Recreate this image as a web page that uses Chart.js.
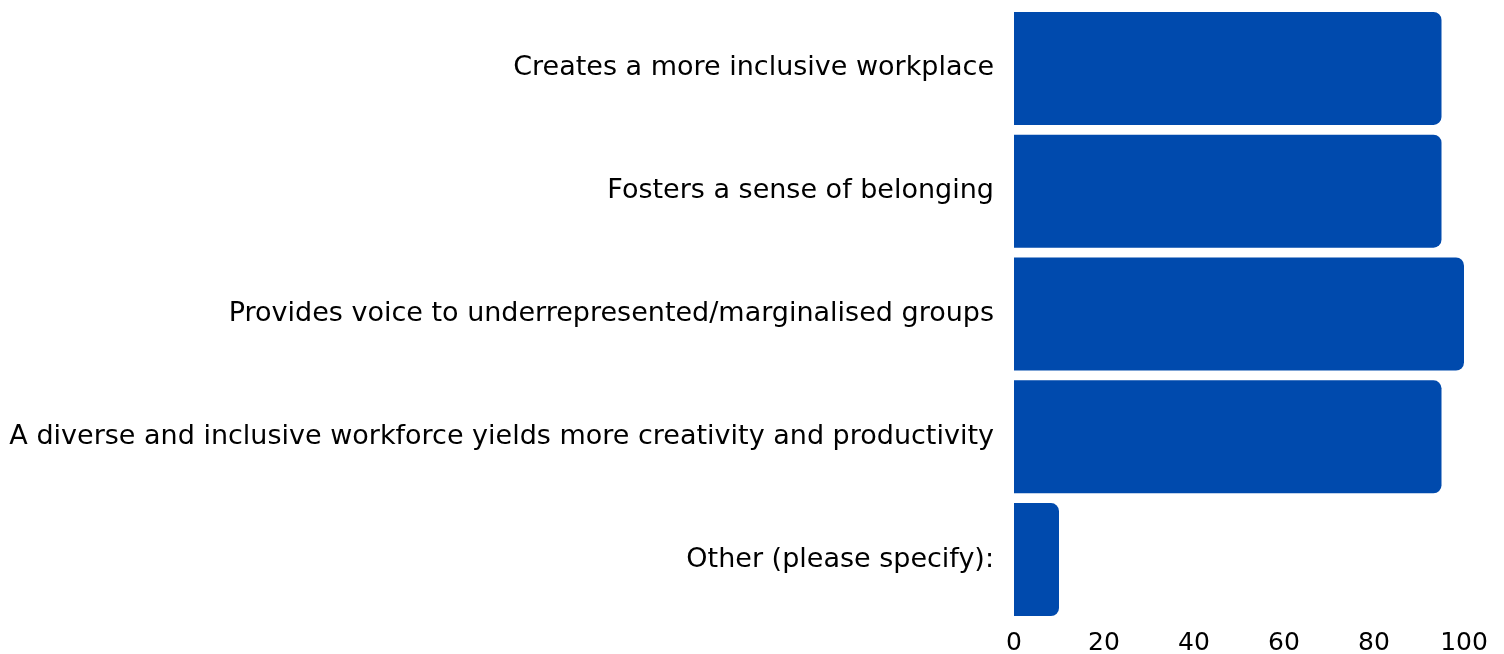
<!DOCTYPE html>
<html>
<head>
<meta charset="utf-8">
<title>Benefits</title>
<script src="https://cdn.jsdelivr.net/npm/chart.js@4.4.1/dist/chart.umd.min.js"></script>
<style>
  html, body { margin: 0; padding: 0; background: #ffffff; }
  #wrap { width: 1504px; height: 654px; }
</style>
</head>
<body>
<div id="wrap"><canvas id="benefitsChart"></canvas></div>
<script>
// answers and their share of respondents (%)
var answers = [
    'Creates a more inclusive workplace',
    'Fosters a sense of belonging',
    'Provides voice to underrepresented/marginalised groups',
    'A diverse and inclusive workforce yields more creativity and productivity',
    'Other (please specify):'
];
var shares = [95, 95, 100, 95, 10];
var xTicks = [0, 20, 40, 60, 80, 100];

const canvas1 = document.getElementById("benefitsChart");

var benefitsChart = new Chart(canvas1, {
    type: 'bar',
    data: {
        labels: answers,
        datasets: [
            {
                label: 'Share',
                data: shares,
                backgroundColor: '#004AAD',
                borderRadius: 8,
                barPercentage: 0.92,
                categoryPercentage: 1
            }
        ]
    },
    options: {
        indexAxis: 'y',
        responsive: true,
        maintainAspectRatio: false,
        animation: false,
        layout: { padding: { top: 7, right: 40, left: 0, bottom: 0 } },
        plugins: {
            legend: { display: false },
            tooltip: { enabled: false }
        },
        scales: {
            x: {
                min: 0,
                max: 100,
                afterBuildTicks: function (axis) {
                    axis.ticks = xTicks.map(function (v) { return { value: v }; });
                },
                afterFit: function (scale) {
                    scale.height = 33;
                    scale.paddingLeft = 0;
                    scale.paddingRight = 0;
                },
                grid: { display: false, drawTicks: false },
                border: { display: false },
                ticks: {
                    color: '#000000',
                    padding: 9,
                    font: { family: 'DejaVu Sans', size: 25, lineHeight: 1.1 }
                }
            },
            y: {
                // long answers need more room than the default half-width limit
                afterFit: function (scale) {
                    scale.width = 1014;
                    scale.paddingTop = 0;
                    scale.paddingBottom = 0;
                },
                grid: { display: false, drawTicks: false },
                border: { display: false },
                ticks: {
                    color: '#000000',
                    padding: 20,
                    font: { family: 'DejaVu Sans', size: 27 }
                }
            }
        }
    }
});
</script>
</body>
</html>
